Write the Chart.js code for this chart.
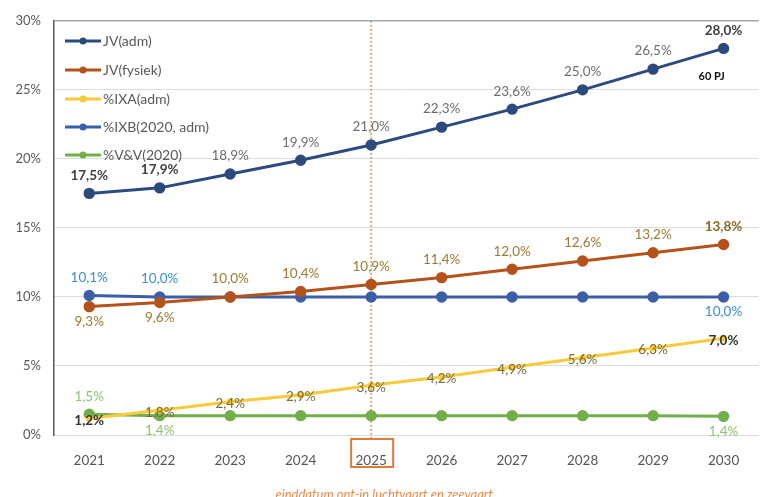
<!DOCTYPE html>
<html>
<head>
<meta charset="utf-8">
<script src="https://cdn.jsdelivr.net/npm/chart.js@4.4.1/dist/chart.umd.min.js"></script>
<style>
html, body { margin: 0; padding: 0; background: #fff; overflow: hidden; }
#wrap { width: 762px; height: 497px; overflow: hidden; }
</style>
</head>
<body>
<div id="wrap"><canvas id="chart" width="766" height="497"></canvas></div>
<script>
var years = ['2021', '2022', '2023', '2024', '2025', '2026', '2027', '2028', '2029', '2030'];
var jvAdm = [17.5, 17.9, 18.9, 19.9, 21.0, 22.3, 23.6, 25.0, 26.5, 28.0];
var jvFysiek = [9.3, 9.6, 10.0, 10.4, 10.9, 11.4, 12.0, 12.6, 13.2, 13.8];
var ixaAdm = [1.2, 1.8, 2.4, 2.9, 3.6, 4.2, 4.9, 5.6, 6.3, 7.0];
var ixb2020 = [10.1, 10.0, 10.0, 10.0, 10.0, 10.0, 10.0, 10.0, 10.0, 10.0];
var vv2020 = [1.5, 1.4, 1.4, 1.4, 1.4, 1.4, 1.4, 1.4, 1.4, 1.35];
var yTicks = [0, 5, 10, 15, 20, 25, 30];
var markerYear = '2025';
var markerNote = 'einddatum opt-in luchtvaart en zeevaart';
var endNote = '60 PJ';

var FONT = 'Lato, "Open Sans", sans-serif';

function pct(v) {
    return v.toFixed(1).replace('.', ',') + '%';
}

// which labels are shown, where, and how: [index, 'a'bove/'b'elow/'c'entre, colour, bold]
var labelSpec = [
    { ds: 0, items: [[0,'a','#404040',true],[1,'a','#404040',true],[2,'a','#6e6e6e'],[3,'a','#6e6e6e'],[4,'a','#6e6e6e'],[5,'a','#6e6e6e'],[6,'a','#6e6e6e'],[7,'a','#6e6e6e'],[8,'a','#6e6e6e'],[9,'a','#404040',true]] },
    { ds: 1, items: [[0,'b','#9a7b33'],[1,'b','#9a7b33'],[2,'a','#9a7b33'],[3,'a','#9a7b33'],[4,'a','#9a7b33'],[5,'a','#9a7b33'],[6,'a','#9a7b33'],[7,'a','#9a7b33'],[8,'a','#9a7b33'],[9,'a','#8a6a25',true]] },
    { ds: 2, items: [[0,'c','#333333',true],[1,'c','#7a6a35'],[2,'c','#7a6a35'],[3,'c','#7a6a35'],[4,'c','#7a6a35'],[5,'c','#7a6a35'],[6,'c','#7a6a35'],[7,'c','#7a6a35'],[8,'c','#7a6a35'],[9,'c','#333333',true]] },
    { ds: 3, items: [[0,'a','#3d8fcc'],[1,'a','#3d8fcc'],[9,'b','#3d8fcc']] },
    { ds: 4, items: [[0,'a','#8cc472'],[1,'b','#8cc472'],[9,'b','#8cc472']] }
];

var extras = {
    id: 'extras',
    beforeDatasetsDraw: function(chart) {
        var ctx = chart.ctx, x = chart.scales.x, area = chart.chartArea;
        var px = x.getPixelForValue(years.indexOf(markerYear));
        ctx.save();
        ctx.strokeStyle = '#e88a4c';
        ctx.lineWidth = 1.5;
        ctx.setLineDash([2, 2]);
        ctx.beginPath();
        ctx.moveTo(px, area.top);
        ctx.lineTo(px, area.bottom + 3);
        ctx.stroke();
        ctx.restore();
    },
    afterDatasetsDraw: function(chart) {
        var ctx = chart.ctx, x = chart.scales.x, area = chart.chartArea;
        ctx.save();
        // data labels
        ctx.textAlign = 'center';
        ctx.textBaseline = 'middle';
        labelSpec.forEach(function(spec) {
            var meta = chart.getDatasetMeta(spec.ds);
            var data = chart.data.datasets[spec.ds].data;
            spec.items.forEach(function(it) {
                var pt = meta.data[it[0]];
                var dy = it[1] === 'a' ? -18 : (it[1] === 'b' ? 15 : 2);
                ctx.font = (it[3] ? 'bold ' : '') + '13.5px ' + FONT;
                ctx.fillStyle = it[2];
                ctx.fillText(pct(data[it[0]]), pt.x, pt.y + dy);
            });
        });

        // 60 PJ note
        var last = chart.getDatasetMeta(0).data[9];
        ctx.font = 'bold 11px ' + FONT;
        ctx.fillStyle = '#111';
        ctx.fillText(endNote, last.x - 12, last.y + 28);

        // legend inside plot
        var rows = [41, 70, 99, 127, 155];
        ctx.textAlign = 'left';
        chart.data.datasets.forEach(function(ds, i) {
            var y = rows[i];
            ctx.strokeStyle = ds.borderColor;
            ctx.lineWidth = 3;
            ctx.beginPath();
            ctx.moveTo(65, y);
            ctx.lineTo(101, y);
            ctx.stroke();
            ctx.fillStyle = ds.borderColor;
            ctx.beginPath();
            ctx.arc(83, y, 3.5, 0, Math.PI * 2);
            ctx.fill();
            ctx.font = '14px ' + FONT;
            ctx.fillStyle = '#595959';
            ctx.fillText(ds.label, 103, y);
        });

        // box around marker year tick and note below
        var px = x.getPixelForValue(years.indexOf(markerYear));
        ctx.strokeStyle = '#e07a38';
        ctx.lineWidth = 2;
        ctx.strokeRect(px - 20, area.bottom + 4, 42, 28);
        ctx.font = 'italic 13px ' + FONT;
        ctx.fillStyle = '#ec8a4a';
        ctx.textAlign = 'center';
        ctx.fillText(markerNote, px + 13, 495);
        ctx.restore();
    }
};

function line(label, data, color, width, radius) {
    return {
        label: label,
        data: data,
        borderColor: color,
        backgroundColor: color,
        borderWidth: width,
        pointRadius: radius,
        pointHoverRadius: radius,
        tension: 0
    };
}

new Chart(document.getElementById('chart'), {
    type: 'line',
    data: {
        labels: years,
        datasets: [
            line('JV(adm)', jvAdm, '#2c4a7e', 3, 4.2),
            line('JV(fysiek)', jvFysiek, '#b4521c', 3, 4.2),
            line('%IXA(adm)', ixaAdm, '#f6ca3a', 3, 2),
            line('%IXB(2020, adm)', ixb2020, '#3b5ea8', 3, 4.2),
            line('%V&V(2020)', vv2020, '#72ae4a', 3, 4.2)
        ]
    },
    options: {
        responsive: false,
        animation: false,
        layout: { padding: { top: 19, left: 0, right: 0, bottom: 0 } },
        plugins: { legend: { display: false }, tooltip: { enabled: false } },
        scales: {
            x: {
                offset: true,
                grid: { display: false },
                border: { display: false },
                ticks: { color: '#555', font: { family: FONT, size: 13.5 }, padding: 10 },
                afterFit: function(s) { s.height = 62; }
            },
            y: {
                min: 0,
                max: 30,
                afterBuildTicks: function(s) { s.ticks = yTicks.map(function(v) { return { value: v }; }); },
                grid: {
                    drawTicks: false,
                    color: function(c) { return c.tick && c.tick.value === 30 ? '#a6a6a6' : '#dcdcdc'; },
                    lineWidth: function(c) { return c.tick && c.tick.value === 30 ? 1.5 : 1; }
                },
                border: { display: true, color: '#595959', width: 1.5 },
                ticks: { color: '#595959', font: { family: FONT, size: 13 }, padding: 13, callback: function(v) { return v + '%'; } },
                afterFit: function(s) { s.width = 54; }
            }
        }
    },
    plugins: [extras]
});
</script>
</body>
</html>
